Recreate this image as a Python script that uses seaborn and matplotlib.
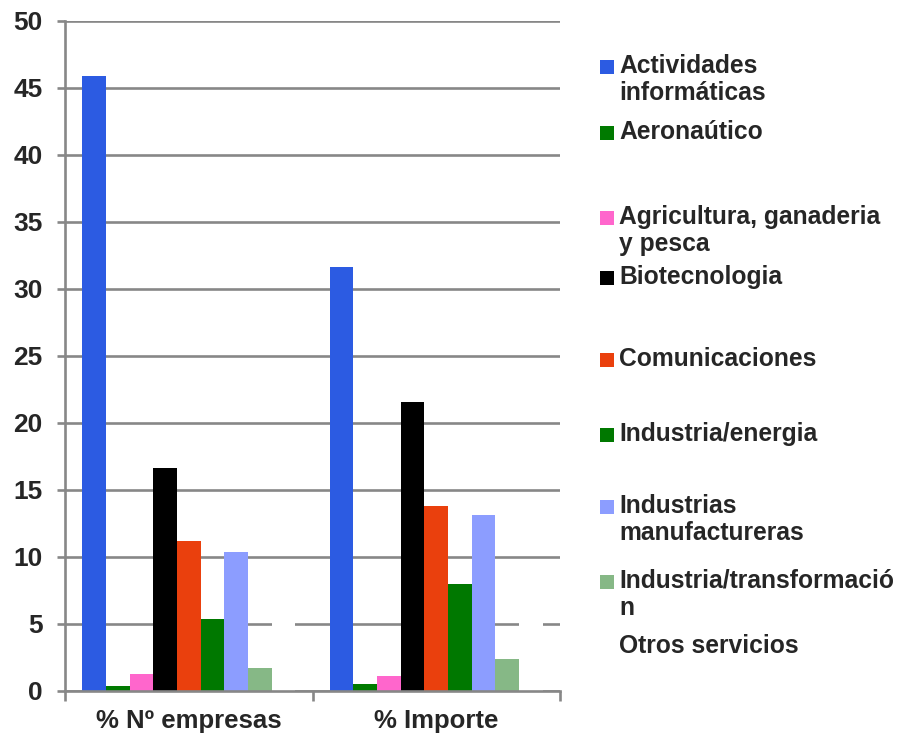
"""
Reparto por sector: % de empresas y % de importe (barras agrupadas).
"""

import pandas as pd
import matplotlib
matplotlib.use('Agg')
import matplotlib.pyplot as plt
from matplotlib.patches import Rectangle
import seaborn as sns

# --- datos ---
medidas = ['% Nº empresas', '% Importe']
sectores = [
    'Actividades informáticas',
    'Aeronaútico',
    'Agricultura, ganaderia y pesca',
    'Biotecnologia',
    'Comunicaciones',
    'Industria/energia',
    'Industrias manufactureras',
    'Industria/transformación',
    'Otros servicios',
]
etiquetas_leyenda = [
    'Actividades\ninformáticas',
    'Aeronaútico',
    'Agricultura, ganaderia\ny pesca',
    'Biotecnologia',
    'Comunicaciones',
    'Industria/energia',
    'Industrias\nmanufactureras',
    'Industria/transformació\nn',
    'Otros servicios',
]
pct_empresas = [45.9, 0.4, 1.3, 16.6, 11.2, 5.35, 10.35, 1.7, 8.5]
pct_importe = [31.6, 0.55, 1.15, 21.55, 13.8, 8.0, 13.15, 2.35, 9.1]
colores = ['#2C5BE2', '#007A00', '#FF66CC', '#000000', '#EA400D',
           '#007800', '#8C9DFF', '#86B886', '#FFFFFF']
yticks = list(range(0, 51, 5))

W, H = 897, 738
GRIS = '#878787'


def main():
    sns.set_style('white')
    plt.rcParams['font.family'] = ['Liberation Sans', 'DejaVu Sans']
    plt.rcParams['font.weight'] = 'bold'

    df = pd.DataFrame({
        'medida': [m for m in medidas for _ in sectores],
        'sector': sectores * len(medidas),
        'valor': pct_empresas + pct_importe,
    })

    fig = plt.figure(figsize=(W / 100, H / 100), dpi=100)
    ax = fig.add_axes([65 / W, 1 - 691 / H, (560 - 65) / W, (691 - 20.7) / H])

    sns.barplot(data=df, x='medida', y='valor', hue='sector',
                order=medidas, hue_order=sectores, palette=colores,
                width=0.86, saturation=1, linewidth=0, errorbar=None,
                legend=False, ax=ax)

    ax.set_xlim(-0.5, len(medidas) - 0.5)
    ax.set_ylim(0, 50)
    ax.set_yticks(yticks)
    ax.set_xlabel('')
    ax.set_ylabel('')

    ax.set_axisbelow(True)
    ax.yaxis.grid(True, color=GRIS, linewidth=1.9)
    ax.xaxis.grid(False)
    for s in ['top', 'right']:
        ax.spines[s].set_visible(False)
    for s in ['left', 'bottom']:
        ax.spines[s].set_color(GRIS)
        ax.spines[s].set_linewidth(1.9)

    ax.tick_params(axis='y', length=6, width=1.9, color=GRIS, pad=10,
                   labelsize=19, left=True)
    ax.tick_params(axis='x', which='major', length=0, pad=13, labelsize=18.5)
    ax.set_xticks([i - 0.5 for i in range(len(medidas) + 1)], minor=True)
    ax.tick_params(axis='x', which='minor', length=7, width=1.9,
                   color=GRIS, bottom=True)
    for lab in ax.get_xticklabels() + ax.get_yticklabels():
        lab.set_fontweight('bold')

    # leyenda a mano, con el cuadro alineado a la primera linea
    y_primera = [67, 133, 218, 278, 360, 435, 507, 582, 647]
    for etiqueta, color, yc in zip(etiquetas_leyenda, colores, y_primera):
        fig.patches.append(Rectangle((600 / W, 1 - (yc + 7) / H), 14 / W, 14 / H,
                                     facecolor=color, edgecolor='none',
                                     transform=fig.transFigure, figure=fig))
        fig.text(619 / W, 1 - (yc - 13) / H, etiqueta, fontsize=17.7,
                 fontweight='bold', va='top', ha='left', linespacing=1.15)

    fig.savefig('out.png', dpi=100)
    plt.close(fig)


if __name__ == '__main__':
    main()
